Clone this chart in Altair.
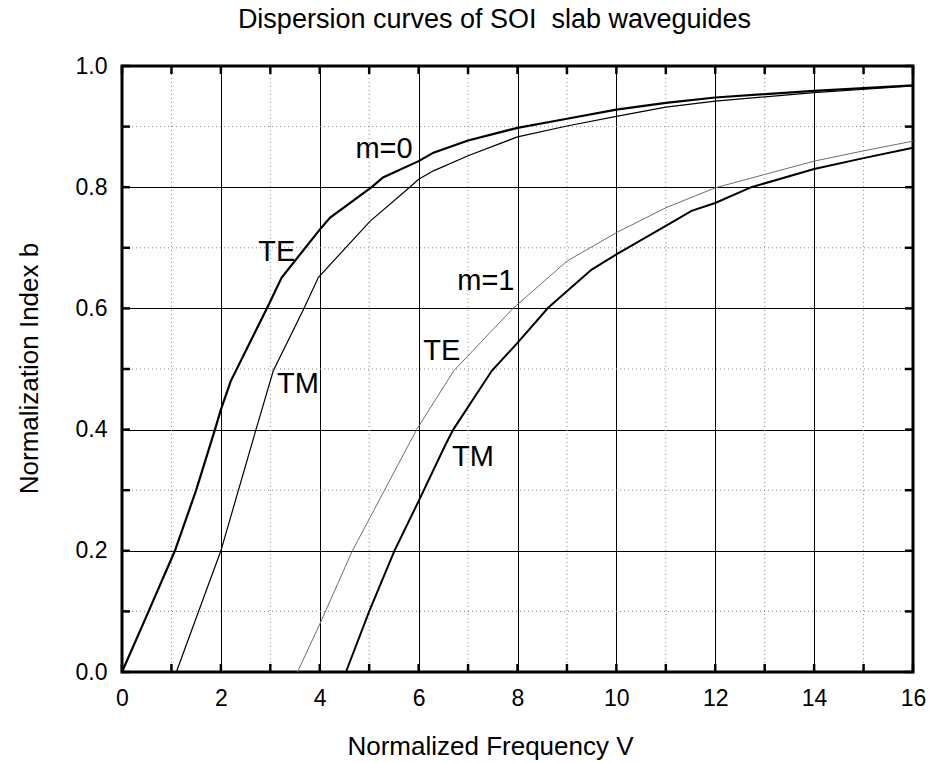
import altair as alt
import pandas as pd

# ---- data ----
TE0_V = [0, 0.5, 1.07, 1.5, 1.88, 2.0, 2.2, 2.93, 3.23, 4.0, 4.21, 5.05, 5.28, 6.0, 6.3, 7.0, 8.0, 9.0, 10.0, 11.0, 12.0, 14.0, 16.0]
TE0_b = [0, 0.093, 0.2, 0.3, 0.4, 0.433, 0.48, 0.6, 0.651, 0.73, 0.75, 0.8, 0.816, 0.843, 0.857, 0.877, 0.898, 0.913, 0.928, 0.939, 0.948, 0.959, 0.968]

TM0_V = [1.1, 1.5, 2.0, 2.71, 3.06, 3.68, 3.97, 5.02, 5.82, 6.0, 6.3, 7.0, 8.0, 9.0, 10.0, 11.0, 12.0, 14.0, 16.0]
TM0_b = [0, 0.089, 0.2, 0.4, 0.497, 0.6, 0.651, 0.744, 0.8, 0.813, 0.827, 0.852, 0.883, 0.901, 0.917, 0.932, 0.942, 0.956, 0.967]

TE1_V = [3.55, 4.0, 4.66, 5.96, 6.71, 7.91, 9.0, 10.0, 11.0, 12.0, 13.0, 14.0, 15.0, 16.0]
TE1_b = [0, 0.079, 0.2, 0.4, 0.497, 0.6, 0.678, 0.725, 0.766, 0.799, 0.821, 0.843, 0.86, 0.876]

TM1_V = [4.53, 5.0, 5.51, 6.0, 6.53, 6.7, 7.48, 8.0, 8.62, 9.5, 10.0, 11.0, 11.52, 12.0, 12.73, 14.0, 15.0, 16.0]
TM1_b = [0, 0.1, 0.2, 0.282, 0.373, 0.4, 0.497, 0.543, 0.601, 0.664, 0.689, 0.736, 0.761, 0.774, 0.8, 0.83, 0.848, 0.865]

LABEL_TEXT = ["m=0", "TE", "TM", "m=1", "TE", "TM"]
LABEL_V = [5.30, 3.13, 3.56, 7.36, 6.47, 7.10]
LABEL_b = [0.863, 0.693, 0.475, 0.645, 0.530, 0.355]

X_MAJOR = [0, 2, 4, 6, 8, 10, 12, 14, 16]
X_MINOR = [1, 3, 5, 7, 9, 11, 13, 15]
X_TICKS = list(range(0, 17))
Y_MAJOR = [0.0, 0.2, 0.4, 0.6, 0.8, 1.0]
Y_MINOR = [0.1, 0.3, 0.5, 0.7, 0.9]
Y_TICKS = [0.0, 0.1, 0.2, 0.3, 0.4, 0.5, 0.6, 0.7, 0.8, 0.9, 1.0]

TITLE = "Dispersion curves of SOI\u00a0 slab waveguides"
X_TITLE = "Normalized Frequency V"
Y_TITLE = "Normalization Index b"

# ---- layout ----
W, H = 791, 606
FONT = "Liberation Sans"

x_scale = alt.Scale(domain=[0, 16], nice=False, zero=False)
y_scale = alt.Scale(domain=[0, 1], nice=False, zero=False)

x_axis = alt.Axis(values=X_MAJOR, grid=True, gridColor="black", gridWidth=1, gridOpacity=1,
                  ticks=False, domain=False, labelFlush=False,
                  labelFont=FONT, labelFontSize=23, labelColor="black", labelPadding=15,
                  title=X_TITLE, titleFont=FONT, titleFontSize=26, titleFontWeight="normal",
                  titleColor="black", titleX=368, titleY=82, titleAlign="center",
                  titleBaseline="alphabetic")
y_axis = alt.Axis(values=Y_MAJOR, format=".1f", grid=True, gridColor="black", gridWidth=1, gridOpacity=1,
                  ticks=False, domain=False, labelFlush=False,
                  labelFont=FONT, labelFontSize=23, labelColor="black", labelPadding=15,
                  title=Y_TITLE, titleFont=FONT, titleFontSize=26, titleFontWeight="normal",
                  titleColor="black", titleX=-93, titleY=302, titleAngle=270,
                  titleAlign="center", titleBaseline="middle")

X = lambda: alt.X("V:Q", scale=x_scale, axis=x_axis)
Y = lambda: alt.Y("b:Q", scale=y_scale, axis=y_axis)

minor_x = alt.Chart(pd.DataFrame({"V": X_MINOR})).mark_rule(
    color="#8a8a8a", strokeDash=[1, 3], strokeWidth=1).encode(x=X())
minor_y = alt.Chart(pd.DataFrame({"b": Y_MINOR})).mark_rule(
    color="#8a8a8a", strokeDash=[1, 3], strokeWidth=1).encode(y=Y())

curves = []
for Vs, bs, col, sw in [(TE0_V, TE0_b, "black", 2.2),
                        (TM0_V, TM0_b, "black", 1.2),
                        (TE1_V, TE1_b, "#6e6e6e", 1.0),
                        (TM1_V, TM1_b, "black", 2.0)]:
    df = pd.DataFrame({"V": Vs, "b": bs})
    curves.append(alt.Chart(df).mark_line(color=col, strokeWidth=sw, interpolate="linear")
                  .encode(x=X(), y=Y(), order=alt.Order("V:Q")))

tx = pd.DataFrame({"V": X_TICKS})
ty = pd.DataFrame({"b": Y_TICKS})
tick_kw = dict(color="black", strokeWidth=2.5)
ticks_bottom = alt.Chart(tx).mark_rule(**tick_kw).encode(x=X(), y=alt.value(H), y2=alt.value(H - 8))
ticks_top = alt.Chart(tx).mark_rule(**tick_kw).encode(x=X(), y=alt.value(0), y2=alt.value(8))
ticks_left = alt.Chart(ty).mark_rule(**tick_kw).encode(y=Y(), x=alt.value(0), x2=alt.value(8))
ticks_right = alt.Chart(ty).mark_rule(**tick_kw).encode(y=Y(), x=alt.value(W), x2=alt.value(W - 8))

labels = alt.Chart(pd.DataFrame({"V": LABEL_V, "b": LABEL_b, "label": LABEL_TEXT})).mark_text(
    font=FONT, fontSize=29, color="black", align="center", baseline="middle"
).encode(x=X(), y=Y(), text="label:N")

chart = alt.layer(minor_x, minor_y, *curves, ticks_bottom, ticks_top, ticks_left, ticks_right, labels).properties(
    width=W, height=H,
    title=alt.TitleParams(TITLE, font=FONT, fontSize=27, fontWeight="normal", color="black",
                          anchor="middle", dx=-23, offset=0, baseline="alphabetic"),
    autosize=alt.AutoSizeParams(type="none"),
    padding={"left": 122, "top": 66, "right": 16, "bottom": 91},
    background="white",
).configure_view(stroke="black", strokeWidth=3)

chart.save("out.html", embed_options={"renderer": "svg", "actions": False})
